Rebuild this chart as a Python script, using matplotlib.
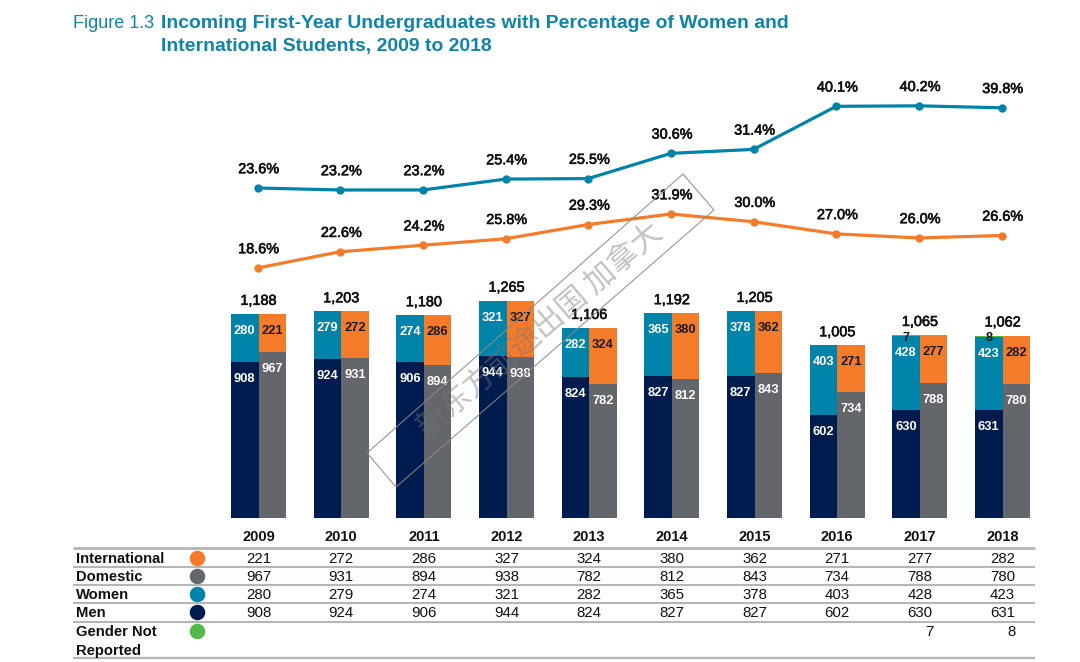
import numpy as np
import matplotlib
matplotlib.use("Agg")
import matplotlib.pyplot as plt
import matplotlib.patheffects as pe
from matplotlib.patches import Polygon
from matplotlib.transforms import blended_transform_factory

years = [2009, 2010, 2011, 2012, 2013, 2014, 2015, 2016, 2017, 2018]
international = [221, 272, 286, 327, 324, 380, 362, 271, 277, 282]
domestic = [967, 931, 894, 938, 782, 812, 843, 734, 788, 780]
women = [280, 279, 274, 321, 282, 365, 378, 403, 428, 423]
men = [908, 924, 906, 944, 824, 827, 827, 602, 630, 631]
gender_nr = [0, 0, 0, 0, 0, 0, 0, 0, 7, 8]
totals = [1188, 1203, 1180, 1265, 1106, 1192, 1205, 1005, 1065, 1062]
pct_women = [23.6, 23.2, 23.2, 25.4, 25.5, 30.6, 31.4, 40.1, 40.2, 39.8]
pct_international = [18.6, 22.6, 24.2, 25.8, 29.3, 31.9, 30.0, 27.0, 26.0, 26.6]

NAVY, GRAY, TEAL, ORANGE, GREEN = "#001b4d", "#63666a", "#0083a9", "#f47b2a", "#54b948"
TITLE = "#0f84ab"
RULE = "#b4b6b8"
W, H = 1080, 662
plt.rcParams["font.family"] = ["Liberation Sans", "DejaVu Sans"]
fig = plt.figure(figsize=(W / 100, H / 100), dpi=100)

def overlay(xlim, ylim, z):
    ax = fig.add_axes([0, 0, 1, 1], zorder=z)
    ax.set_xlim(*xlim)
    ax.set_ylim(*ylim)
    ax.axis("off")
    ax.patch.set_alpha(0)
    return ax

PX = 82.67
X0 = 258.5
xlim = (-X0 / PX, (W - X0) / PX)
BASE, SCALE = 518.0, 0.1717
ax_bar = overlay(xlim, ((BASE - H) / SCALE, BASE / SCALE), 1)
ax_a = overlay(xlim, (23.6 - (H - 188) / 4.95, 23.6 + 188 / 4.95), 2)
ax_b = overlay(xlim, (18.6 - (H - 268) / 4.06, 18.6 + 268 / 4.06), 2)
ax_px = overlay((0, W), (H, 0), 3)

x = np.arange(len(years))
bw = 27.6 / PX
off = bw / 2
ax_bar.bar(x - off, men, bw, color=NAVY)
ax_bar.bar(x - off, women, bw, bottom=men, color=TEAL)
ax_bar.bar(x - off, gender_nr, bw, bottom=np.add(men, women), color=GREEN)
ax_bar.bar(x + off, domestic, bw, color=GRAY)
ax_bar.bar(x + off, international, bw, bottom=domestic, color=ORANGE)

def seg_label(ax, xv, yv, txt, color, dy):
    ax.annotate(txt, (xv, yv), xytext=(0, -dy * 0.72), textcoords="offset points",
                ha="center", va="center", color=color, fontsize=9.3, fontweight="bold", zorder=5)

medium = [pe.withStroke(linewidth=0.45, foreground="#111111")]
for i in x:
    seg_label(ax_bar, i - off, men[i], str(men[i]), "white", 17)
    seg_label(ax_bar, i - off, men[i] + women[i], str(women[i]), "white", 17)
    seg_label(ax_bar, i + off, domestic[i], str(domestic[i]), "white", 17)
    seg_label(ax_bar, i + off, domestic[i] + international[i], str(international[i]), "#1a1a1a", 17)
    if gender_nr[i]:
        seg_label(ax_bar, i - off, men[i] + women[i] + gender_nr[i], str(gender_nr[i]), "#1a1a1a", 2.5)
    ax_bar.annotate(f"{totals[i]:,}", (i, totals[i]), xytext=(0, 13.2 * 0.72), textcoords="offset points",
                    ha="center", va="center", fontsize=10.4, color="#111111", path_effects=medium)

for ax, vals, col in [(ax_a, pct_women, TEAL), (ax_b, pct_international, ORANGE)]:
    ax.plot(x - 1 / PX, vals, color=col, lw=2.3, marker="o", ms=6, mew=0, solid_capstyle="round")
    for i, v in zip(x, vals):
        ax.annotate(f"{v:.1f}%", (i, v), xytext=(0, 18.8 * 0.72), textcoords="offset points",
                    ha="center", va="center", fontsize=10.4, color="#111111", path_effects=medium)

# table
tr = blended_transform_factory(ax_bar.transData, ax_px.transData)
for i, yr in zip(x, years):
    ax_px.text(i, 537, str(yr), transform=tr, ha="center", va="center", fontsize=10.5, fontweight="bold", color="#111111")

row_names = ["International", "Domestic", "Women", "Men"]
row_vals = [international, domestic, women, men]
row_cols = [ORANGE, GRAY, TEAL, NAVY]
row_y = [559, 577, 595, 613]
dot_y = [557.8, 575.8, 594, 612.2]
for name, vals, col, ry, dy in zip(row_names, row_vals, row_cols, row_y, dot_y):
    ax_px.text(76, ry, name, ha="left", va="center", fontsize=10.6, fontweight="bold", color="#111111")
    ax_px.plot([196.5], [dy], "o", ms=11.2, mew=0, color=col)
    for i, v in zip(x, vals):
        ax_px.text(i, ry, str(v), transform=tr, ha="center", va="center", fontsize=10.8, color="#111111")
ax_px.text(76, 632, "Gender Not", ha="left", va="center", fontsize=10.6, fontweight="bold", color="#111111")
ax_px.text(76, 651, "Reported", ha="left", va="center", fontsize=10.6, fontweight="bold", color="#111111")
ax_px.plot([196.5], [631], "o", ms=11.2, mew=0, color=GREEN)
for i, v in zip(x, gender_nr):
    if v:
        ax_px.text(i + 13.5 / PX, 632, str(v), transform=tr, ha="right", va="center", fontsize=10.8, color="#111111")
for ry, lw in [(548, 2.0), (567, 1.5), (585, 1.5), (603, 1.5), (621.5, 1.5), (658, 1.6)]:
    ax_px.plot([73, 1035], [ry, ry], color=RULE, lw=lw, solid_capstyle="butt")

# title
ax_px.text(73, 24, "Figure 1.3", ha="left", va="center", fontsize=13, color=TITLE)
ax_px.text(161, 24, "Incoming First-Year Undergraduates with Percentage of Women and",
           ha="left", va="center", fontsize=13.95, fontweight="bold", color=TITLE)
ax_px.text(161, 46, "International Students, 2009 to 2018",
           ha="left", va="center", fontsize=13.95, fontweight="bold", color=TITLE)

# watermark
ax_px.add_patch(Polygon([(367, 453), (396, 487), (714, 210), (683, 174)], closed=True,
                        fill=False, ec="#8a8a8a", lw=0.8, alpha=0.9))
ax_px.text(540, 330, "新东方前途出国 加拿大", rotation=40.6, rotation_mode="anchor",
           ha="center", va="center", fontsize=22, color="#777777", alpha=0.45,
           family=["Noto Sans CJK SC", "DejaVu Sans"])

fig.savefig("out.png", dpi=100, facecolor="white")
